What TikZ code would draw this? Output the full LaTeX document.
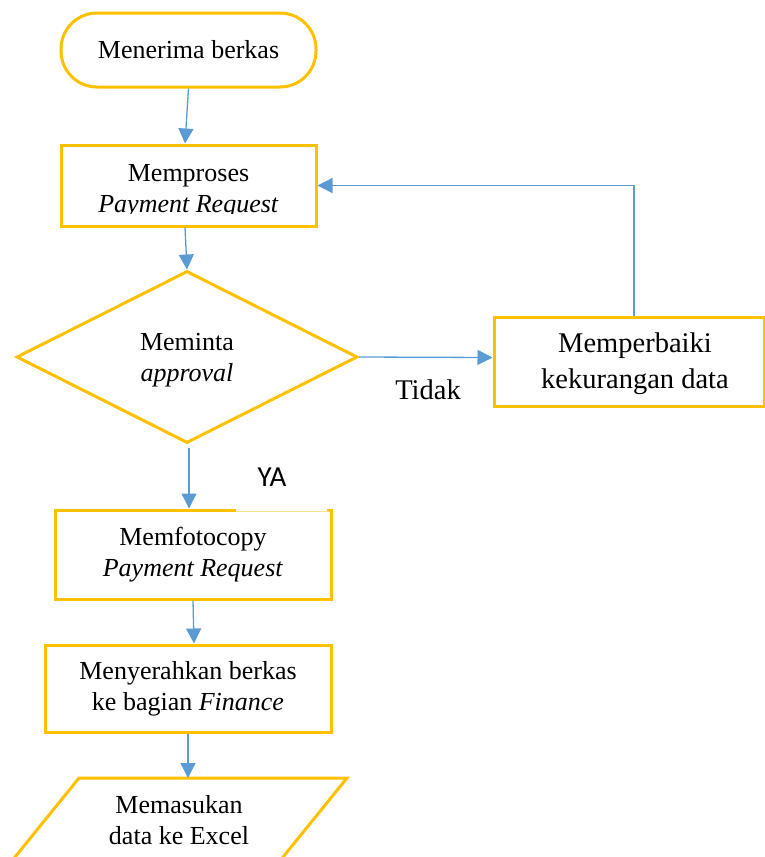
\documentclass[tikz,border=0pt]{standalone}
\usepackage{fontspec}
\setmainfont{Liberation Serif}
\newfontfamily\labelsans{Carlito}
\usetikzlibrary{shapes.geometric,arrows.meta}
\definecolor{flowyellow}{HTML}{FFC000}
\definecolor{flowblue}{HTML}{5B9BD5}
\definecolor{paleyellow}{HTML}{FFE28A}

\begin{document}
\begin{tikzpicture}[x=1pt,y=-1pt,
  box/.style={draw=flowyellow, line width=3pt, fill=white, inner sep=0pt, align=center,
    font=\fontsize{26}{31}\selectfont},
  txt/.style={inner sep=0pt, align=center, font=\fontsize{26}{31}\selectfont},
  bigtxt/.style={inner sep=0pt, align=center, font=\fontsize{28.5}{36}\selectfont},
  flow/.style={draw=flowblue, line width=1.3pt, -{Triangle[length=15pt,width=15pt]}},
]
\useasboundingbox (0,0) rectangle (765,857);
\clip (0,0) rectangle (765,857);

% start terminal
\node[box, rounded corners=36pt, minimum width=255pt, minimum height=74pt] (mulai) at (188.5,50) {Menerima berkas};

% processing the request (text cut off at the lower edge)
\node[box, minimum width=255pt, minimum height=81pt] (proses) at (188.5,185.5) {};
\begin{scope}
  \clip (62,146) rectangle (315,213);
  \node[txt] (prosesteks) at (188.5,191) {Memproses\\\textit{Payment Request}};
\end{scope}

% decision
\node[draw=flowyellow, line width=3pt, diamond, aspect=1.98, inner sep=0pt,
      minimum width=341pt, minimum height=172pt] (minta) at (187,357) {};
\node[txt] (mintateks) at (187,360) {Meminta\\\textit{approval}};

% correction step
\node[box, minimum width=270pt, minimum height=89pt] (perbaiki) at (629,361.5) {};
\node[bigtxt] (perbaikiteks) at (635,364) {Memperbaiki\\kekurangan data};

% photocopy step
\node[box, minimum width=276pt, minimum height=89pt] (fotocopy) at (193,554.5)
  {Memfotocopy\\\textit{Payment Request}};
\draw[white, line width=3.2pt] (236,510) -- (327,510);
\draw[paleyellow, line width=0.8pt] (236,511) -- (329,511);

% hand over to finance
\node[box, minimum width=286pt, minimum height=87pt] (serahkan) at (188,688.5)
  {Menyerahkan berkas\\ke bagian \textit{Finance}};

% data input (parallelogram running past the lower edge)
\draw[flowyellow, line width=3pt, line join=miter] (79,778) -- (347,778) -- (272.5,870) -- (4.5,870) -- cycle;
\node[txt] (masuk) at (179,820) {Memasukan\\data ke Excel};
\coordinate (masukatas) at (188,778);

% labels
\node[inner sep=0pt, font=\fontsize{28.5}{30}\selectfont] (tidak) at (428,390) {Tidak};
\node[inner sep=0pt, font=\labelsans\fontsize{29}{30}\selectfont] (ya) at (272,477) {YA};

% connectors
\draw[flow] (mulai.south) -- ([xshift=-3.5pt]proses.north);
\draw[flow] ([xshift=-3.5pt]proses.south) -- (minta.north);
\draw[flow] (minta.east) -- ([yshift=4pt]perbaiki.west);
\draw[flow] ([xshift=5pt]perbaiki.north) |- (proses.east);
\draw[flow] ([xshift=2pt,yshift=-3pt]minta.south) -- ([xshift=-4pt]fotocopy.north);
\draw[flow] (fotocopy.south) -- ([xshift=6pt]serahkan.north);
\draw[flow] (serahkan.south) -- (masukatas);
\end{tikzpicture}
\end{document}
